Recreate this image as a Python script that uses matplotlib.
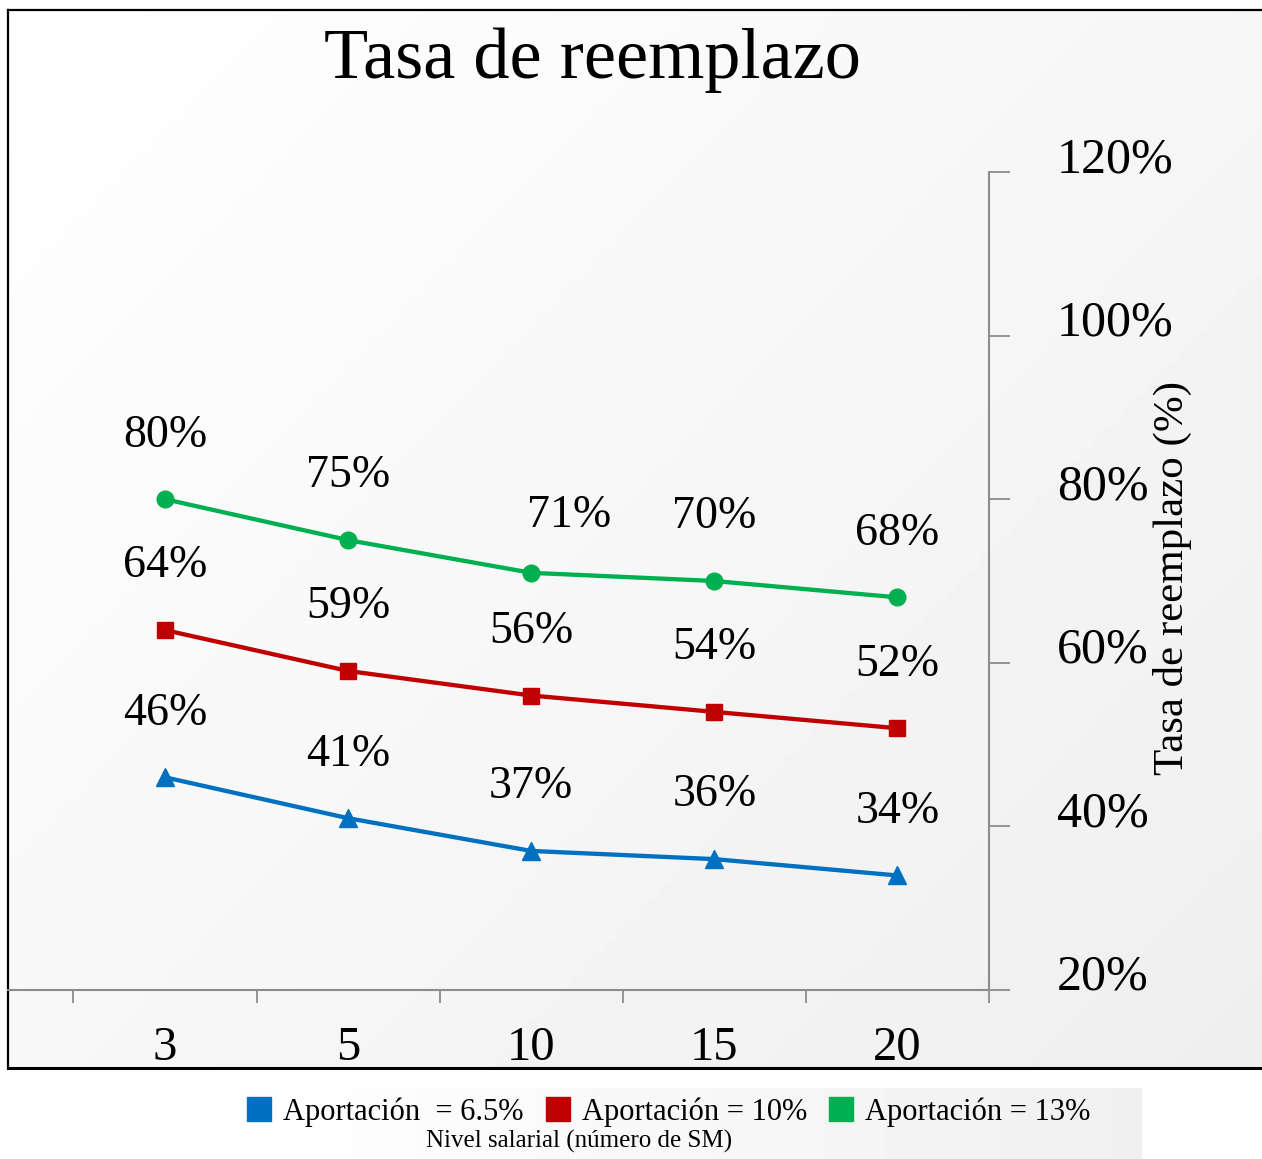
import numpy as np
import matplotlib
matplotlib.use("Agg")
import matplotlib.pyplot as plt
from matplotlib.lines import Line2D
from matplotlib.ticker import FuncFormatter, FixedLocator

plt.rcParams['font.family'] = ['Liberation Serif', 'DejaVu Serif']

# ---- data ----
categories = ["3", "5", "10", "15", "20"]
serie_65 = [46, 41, 37, 36, 34]
serie_10 = [64, 59, 56, 54, 52]
serie_13 = [80, 75, 71, 70, 68]
series_labels = ["Aportación  = 6.5%", "Aportación = 10%", "Aportación = 13%"]
yticks = [20, 40, 60, 80, 100, 120]
title = "Tasa de reemplazo"
ylabel = "Tasa de reemplazo (%)"
xlabel = "Nivel salarial (número de SM)"

colors = ["#0070C0", "#C00000", "#00B050"]
markers = ["^", "s", "o"]
msizes = [13, 11, 12]

W, H = 1262, 1159
fig = plt.figure(figsize=(W / 100, H / 100), dpi=100)
fig.patch.set_facecolor("white")

def fx(px):
    return px / W

def fy(py):
    return 1 - py / H

# ---- background frame with gradient ----
bg = fig.add_axes([fx(8), fy(1068), fx(1262) - fx(8), fy(10) - fy(1068)], zorder=0)
gx, gy = np.meshgrid(np.linspace(0, 1, 200), np.linspace(0, 1, 200))
grad = 1.0 - 0.065 * (0.55 * gx + 0.45 * gy)
bg.imshow(grad, cmap="gray", vmin=0, vmax=1, aspect="auto", extent=[0, 1, 1, 0])
bg.set_xticks([]); bg.set_yticks([])
for s in ["top", "left", "bottom"]:
    bg.spines[s].set_color("black")
    bg.spines[s].set_linewidth(1.6)
bg.spines["bottom"].set_linewidth(2.2)
bg.spines["right"].set_visible(False)

# ---- main axes ----
ax = fig.add_axes([fx(8), fy(990), fx(989) - fx(8), fy(172) - fy(990)], zorder=2)
ax.patch.set_alpha(0)
x = np.arange(len(categories))
scale = (989 - 165) / 4.5
ax.set_xlim(4.5 - (989 - 8) / scale, 4.5)
ax.set_ylim(20, 120)

all_series = [serie_65, serie_10, serie_13]
for vals, c, m, ms in zip(all_series, colors, markers, msizes):
    ax.plot(x, vals, color=c, lw=3.1, marker=m, markersize=ms,
            markerfacecolor=c, markeredgecolor=c, zorder=3, clip_on=False)
    for xi, v in zip(x, vals):
        off = (0, 46)
        if c == colors[2] and xi == 2:
            off = (27, 41)
        ax.annotate(f"{v}%", (xi, v), xytext=off, textcoords="offset points",
                    ha="center", va="center", fontsize=33, color="black")

# spines
for s in ["top", "left"]:
    ax.spines[s].set_visible(False)
ax.spines["right"].set_color("#8c8c8c")
ax.spines["right"].set_linewidth(1.5)
ax.spines["bottom"].set_color("#8c8c8c")
ax.spines["bottom"].set_linewidth(1.5)

# y axis on right
ax.yaxis.tick_right()
ax.set_yticks(yticks)
ax.yaxis.set_major_formatter(FuncFormatter(lambda v, p: f"{v:.0f}%"))
ax.tick_params(axis="y", which="major", direction="out", length=15, width=1.3,
               color="#8c8c8c", pad=34, labelsize=36)
for lab in ax.get_yticklabels():
    lab.set_verticalalignment("baseline")
    lab.set_horizontalalignment("left")

# x axis
ax.set_xticks(x)
ax.set_xticklabels(categories)
ax.xaxis.set_minor_locator(FixedLocator(np.arange(-0.5, 4.6, 1.0)))
ax.tick_params(axis="x", which="major", length=0, pad=26, labelsize=35)
ax.tick_params(axis="x", which="minor", direction="out", length=9.4, width=1.3,
               color="#8c8c8c")

# title and y label
fig.text(fx(592), fy(60), title, ha="center", va="center", fontsize=52)
fig.text(fx(1172), fy(578), ylabel, ha="center", va="center", rotation=90, fontsize=31)

# ---- legend box ----
lg = fig.add_axes([fx(240), fy(1159), fx(1142) - fx(240), fy(1088) - fy(1159)], zorder=1)
gx2 = np.linspace(0, 1, 300)[None, :]
lg.imshow(1.0 - 0.06 * gx2, cmap="gray", vmin=0, vmax=1, aspect="auto", extent=[0, 1, 0, 1])
lg.set_xticks([]); lg.set_yticks([])
for s in lg.spines.values():
    s.set_visible(False)

handles = [Line2D([], [], ls="none", marker="s", markersize=17, markerfacecolor=c,
                  markeredgecolor=c) for c in colors]
fig.legend(handles, series_labels, ncol=3, loc="center left",
           bbox_to_anchor=(fx(248), fy(1112)), frameon=False, fontsize=22,
           handlelength=0.75, handletextpad=0.4, columnspacing=0.75, borderaxespad=0,
           borderpad=0)
fig.text(fx(579), fy(1141), xlabel, ha="center", va="center", fontsize=18)

fig.savefig("out.png", dpi=100)
